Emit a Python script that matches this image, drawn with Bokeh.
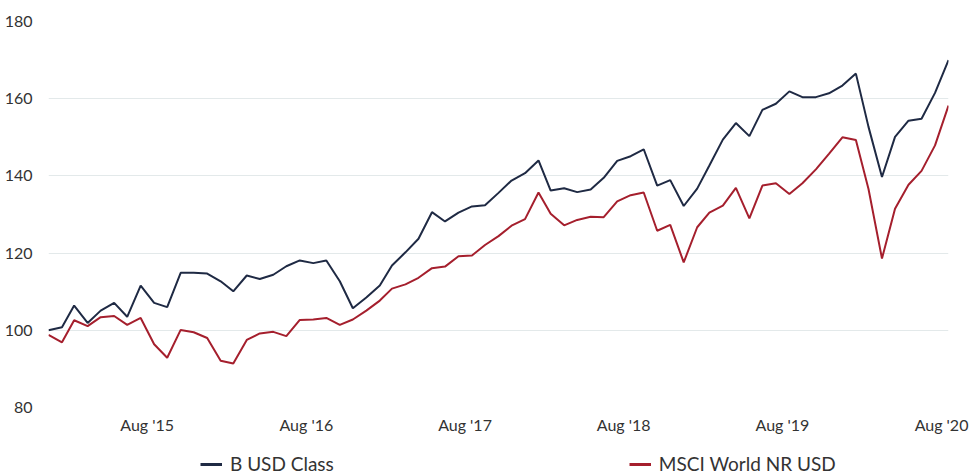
import pandas as pd
from bokeh.plotting import figure
from bokeh.layouts import column
from bokeh.models import FixedTicker, Legend, LegendItem, Range1d, DatetimeTickFormatter
from bokeh.embed import file_html
from bokeh.resources import INLINE

# Month-end observation dates (Dec 2014 .. Aug 2020)
dates = pd.date_range("2014-12-31", periods=69, freq="ME")

fund_b_usd = [100.0, 100.8, 106.4, 101.9, 105.1, 107.1, 103.5, 111.6, 107.1, 106.0,
              114.9, 114.9, 114.7, 112.7, 110.1, 114.2, 113.3, 114.4, 116.6, 118.1,
              117.4, 118.1, 112.7, 105.7, 108.5, 111.6, 116.8, 120.2, 123.7, 130.6,
              128.2, 130.5, 132.1, 132.4, 135.6, 138.8, 140.7, 144.0, 136.2, 136.8,
              135.8, 136.5, 139.5, 143.9, 145.1, 146.9, 137.5, 138.9, 132.2, 136.7,
              142.7, 149.4, 153.7, 150.3, 157.1, 158.7, 161.9, 160.4, 160.4, 161.4,
              163.4, 166.5, 152.7, 139.7, 150.1, 154.3, 154.8, 161.5, 170.0]

msci_world = [98.8, 96.9, 102.6, 101.1, 103.4, 103.7, 101.4, 103.2, 96.4, 92.9,
              100.1, 99.5, 98.0, 92.1, 91.4, 97.5, 99.2, 99.6, 98.5, 102.7,
              102.8, 103.2, 101.4, 102.8, 105.1, 107.7, 110.8, 111.9, 113.6, 116.1,
              116.5, 119.2, 119.4, 122.1, 124.4, 127.1, 128.8, 135.7, 130.2, 127.2,
              128.6, 129.4, 129.3, 133.4, 135.0, 135.7, 125.8, 127.3, 117.6, 126.7,
              130.5, 132.3, 136.9, 129.0, 137.5, 138.1, 135.3, 138.1, 141.7, 145.7,
              150.0, 149.3, 136.6, 118.6, 131.5, 137.7, 141.3, 147.9, 158.2]

series_names = ["B USD Class", "MSCI World NR USD"]
tick_dates = ["2015-08-15", "2016-08-15", "2017-08-15", "2018-08-15", "2019-08-15", "2020-08-15"]
y_ticks = [80, 100, 120, 140, 160, 180]

FONT = "Lato"
BLUE = "#1f2a44"
RED = "#a51f2d"

# ---- main chart ----
p = figure(frame_width=900, frame_height=386, x_axis_type="datetime", output_backend="svg",
           toolbar_location=None, min_border_left=48, min_border_right=23,
           min_border_top=21, min_border_bottom=38)
p.x_range = Range1d(dates[0], dates[-1])
p.y_range = Range1d(80, 180)
p.outline_line_color = None
p.background_fill_color = "white"
p.border_fill_color = "white"

p.line(dates, fund_b_usd, line_color=BLUE, line_width=2)
p.line(dates, msci_world, line_color=RED, line_width=2)

p.xgrid.grid_line_color = None
p.ygrid.grid_line_color = "#e3e9ea"
p.ygrid.grid_line_width = 1

tick_ms = [pd.Timestamp(d).value / 1e6 for d in tick_dates]
p.xaxis.ticker = FixedTicker(ticks=tick_ms)
p.xaxis.formatter = DatetimeTickFormatter(years="%b '%y", months="%b '%y", days="%b '%y",
                                          hours="%b '%y", minutes="%b '%y")
p.yaxis.ticker = FixedTicker(ticks=y_ticks)

for ax in (p.xaxis[0], p.yaxis[0]):
    ax.axis_line_color = None
    ax.major_tick_line_color = None
    ax.minor_tick_line_color = None
    ax.major_label_text_font = FONT
    ax.major_label_text_font_size = "16px"
    ax.major_label_text_color = "#333333"
p.xaxis.major_label_standoff = 1
p.yaxis.major_label_standoff = 10

# ---- legend strip below the chart (its series lie outside its own view) ----
lg = figure(width=971, height=30, x_axis_type="datetime", output_backend="svg",
            toolbar_location=None, x_axis_location=None, y_axis_location=None,
            min_border_left=48, min_border_right=23, min_border_top=0, min_border_bottom=0)
lg.x_range = Range1d(dates[0], dates[-1])
lg.y_range = Range1d(0, 1)
lg.outline_line_color = None
lg.xgrid.visible = False
lg.ygrid.visible = False
lr1 = lg.line(dates, fund_b_usd, line_color=BLUE, line_width=3)
lr2 = lg.line(dates, msci_world, line_color=RED, line_width=3)

legend = Legend(items=[LegendItem(label=series_names[0], renderers=[lr1]),
                       LegendItem(label=series_names[1], renderers=[lr2])],
                orientation="horizontal", location=(152, 0), spacing=295,
                label_text_font=FONT, label_text_font_size="19px",
                label_text_color="#333333", glyph_width=22, glyph_height=20,
                label_height=20, label_standoff=8, border_line_color=None,
                background_fill_alpha=0, padding=0, margin=0)
lg.add_layout(legend, "center")

layout = column(p, lg)
open("out.html", "w").write(file_html(layout, INLINE))
